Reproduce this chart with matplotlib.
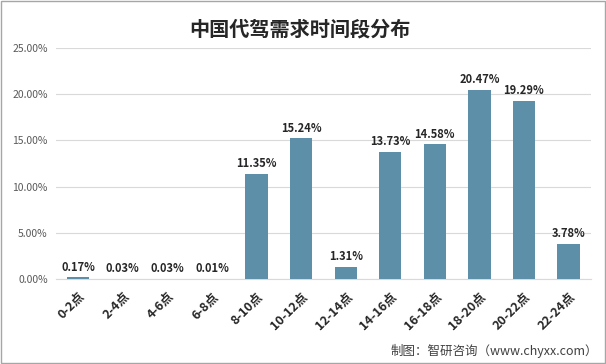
import numpy as np
import matplotlib.pyplot as plt
from matplotlib.patches import Rectangle

plt.rcParams['font.family'] = ['Noto Sans CJK SC', 'DejaVu Sans']

periods = ["0-2点", "2-4点", "4-6点", "6-8点", "8-10点", "10-12点", "12-14点",
           "14-16点", "16-18点", "18-20点", "20-22点", "22-24点"]
share = [0.17, 0.03, 0.03, 0.01, 11.35, 15.24, 1.31, 13.73, 14.58, 20.47, 19.29, 3.78]
yticks = [0, 5, 10, 15, 20, 25]

fig = plt.figure(figsize=(6.06, 3.64), dpi=100)
ax = fig.add_axes([0.0924, 0.2335, 0.8826, 0.6345])

x = np.arange(len(periods))
ax.bar(x, share, width=0.5, color='#5E8FA8', zorder=3)
for xi, v in zip(x, share):
    ax.text(xi, v + 0.4, "%.2f%%" % v, ha='center', va='bottom',
            fontsize=8, fontweight='bold', color='#262626')

ax.set_xlim(-0.5, len(periods) - 0.5)
ax.set_ylim(0, 25)
ax.set_yticks(yticks)
ax.set_yticklabels(["%.2f%%" % t for t in yticks], fontsize=7.5, color='#595959')
ax.set_xticks(x)
ax.set_xticklabels(periods, rotation=45, ha='right', rotation_mode='anchor',
                   fontsize=9, fontweight='bold', color='#262626')
ax.grid(axis='y', color='#d9d9d9', linewidth=0.8, zorder=0)
ax.tick_params(length=0, pad=6)
ax.tick_params(axis='x', pad=8)
for s in ['top', 'right', 'left']:
    ax.spines[s].set_visible(False)
ax.spines['bottom'].set_color('#d9d9d9')

fig.text(0.495, 0.92, "中国代驾需求时间段分布", ha='center', va='center',
         fontsize=14.5, fontweight='bold', color='#262626')
fig.text(0.987, 0.035, "制图：智研咨询（www.chyxx.com）", ha='right', va='center',
         fontsize=9, color='#404040')
fig.patches.append(Rectangle((0.001, 0.002), 0.997, 0.995, transform=fig.transFigure,
                             fill=False, edgecolor='#a6a6a6', linewidth=1))

fig.savefig("out.png", dpi=100)
